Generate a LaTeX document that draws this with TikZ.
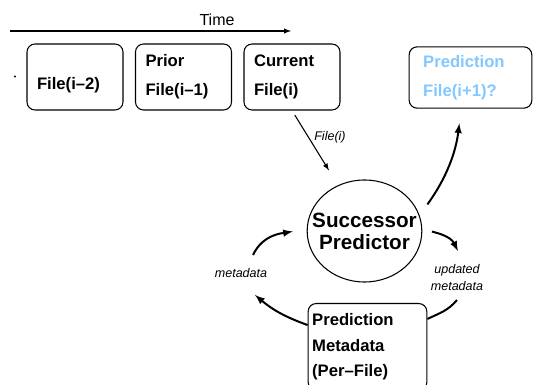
\documentclass[tikz,border=0pt]{standalone}
\usepackage{fontspec}
\setmainfont{Liberation Sans}
\usetikzlibrary{positioning, shapes.geometric}
\definecolor{predblue}{RGB}{130,200,255}

\begin{document}
\begin{tikzpicture}[x=0.75pt, y=-0.75pt, >=latex,
        filebox/.style={draw, rectangle, rounded corners=6pt, line width=0.8pt, minimum height=49.5pt, align=left, font=\bfseries\fontsize{12.5}{22}\selectfont},
        lbl/.style={font=\itshape\fontsize{9.4}{12.75}\selectfont, inner sep=1pt, align=center},
        flow/.style={->, line width=1.5pt}]
        \useasboundingbox (0,0) rectangle (533,385);
        \clip (0,0) rectangle (533,385);

        % Time axis on top
        \coordinate (T-start) at (10,31);
        \coordinate (T-end) at (291,31);
        \draw[->, line width=0.8pt] (T-start) -- (T-end);
        \node[anchor=base, font=\fontsize{12}{14}\selectfont] (Time) at (217,25.5) {Time};
        \node[circle, fill, inner sep=0pt, minimum size=1.8pt] (Dot) at (15,76.5) {};

        % Past and current files
        \foreach \x/\t in {1/{\mbox{}\\File(i--2)}, 2/{Prior\\File(i--1)}, 3/{Current\\File(i)}} {
            \node[filebox, text width=57pt, inner xsep=7.5pt] (F-\x) at (\x*108.5-33.5, 77) {\t};
        }

        % File to be predicted
        \node[filebox, text=predblue, text width=71pt, inner xsep=10.5pt, minimum height=46pt] (Next) at (470.5,77.5) {Prediction\\File(i+1)?};

        % Predictor in the middle
        \node[draw, ellipse, line width=0.8pt, inner sep=0pt, minimum width=86pt, minimum height=76.5pt] (Pred) at (364.5,231) {};
        \node[align=center, font=\bfseries\fontsize{15.5}{16.5}\selectfont] (Pred-text) at (Pred) {Successor\\Predictor};

        % Metadata store at the bottom
        \node[filebox, anchor=north, text width=83pt, inner xsep=3pt, minimum height=65pt, font=\bfseries\fontsize{12.5}{19}\selectfont] (Meta) at (367.5,303) {Prediction\\Metadata\\(Per--File)};

        % Labels on the connectors
        \node[lbl] (L-file) at (330,137) {File(i)};
        \node[lbl] (L-upd) at (457,278) {updated\\metadata};
        \node[lbl] (L-meta) at (241,273) {metadata};
        \coordinate (U-tip) at (458,251);
        \coordinate (U-tail) at (457,300);
        \coordinate (M-tip) at (255,295);
        \coordinate (M-tail) at (253,255);

        % Connections
        \draw[->, line width=0.8pt, shorten <=4pt, shorten >=13pt] (F-3.south) -- (Pred.120);
        \draw[flow, shorten <=10pt, shorten >=11pt] (Pred.16) to[out=54, in=-97] ([xshift=-7pt]Next.south);
        \draw[flow, shorten <=7.5pt] (Pred.2) to[out=-15, in=117] (U-tip);
        \draw[line width=1.5pt] (U-tail) to[out=-130, in=25] (Meta.25);
        \draw[flow] (Meta.160) to[out=160, in=-40] (M-tip);
        \draw[flow, shorten >=10.5pt] (M-tail) to[out=65, in=190] (Pred.178);
    \end{tikzpicture}
\end{document}
